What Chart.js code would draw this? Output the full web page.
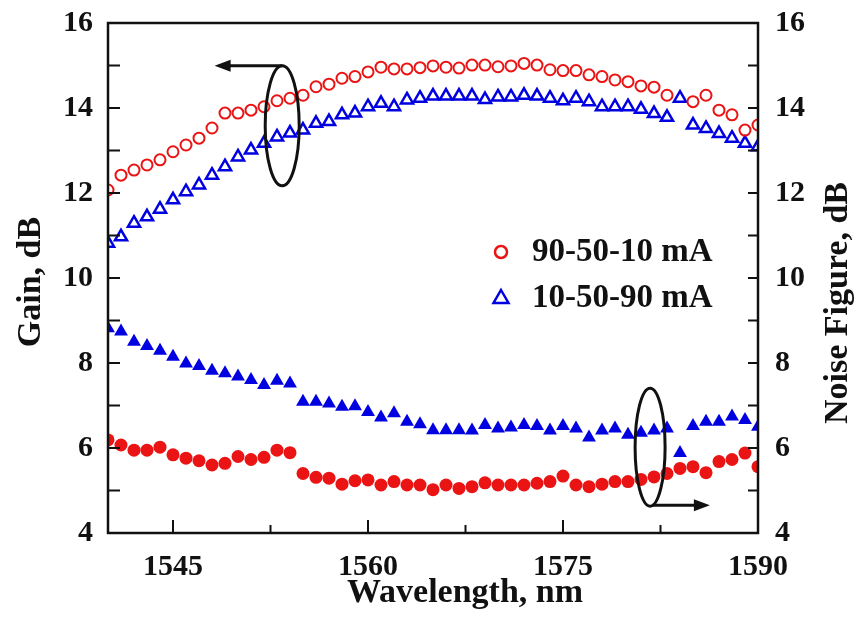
<!DOCTYPE html>
<meta charset="utf-8">
<style>
html, body {
  margin: 0;
  background: #fff;
}

#chart {
  display: block;
}
</style>
<body>

<canvas id="chart" width="860" height="631"></canvas>

<script src="https://cdn.jsdelivr.net/npm/chart.js@4/dist/chart.umd.min.js"></script>
<script type="text/javascript">
"use strict";

/* global Chart, document */

var wavelengths = [
  1540, 1541, 1542, 1543, 1544, 1545, 1546, 1547, 1548, 1549,
  1550, 1551, 1552, 1553, 1554, 1555, 1556, 1557, 1558, 1559,
  1560, 1561, 1562, 1563, 1564, 1565, 1566, 1567, 1568, 1569,
  1570, 1571, 1572, 1573, 1574, 1575, 1576, 1577, 1578, 1579,
  1580, 1581, 1582, 1583, 1584, 1585, 1586, 1587, 1588, 1589, 1590
];

// gain, dB (open markers, left axis)
var gain905010 = [
  12.07, 12.42, 12.54, 12.66, 12.78, 12.97, 13.13, 13.29, 13.53, 13.88,
  13.88, 13.95, 14.03, 14.17, 14.23, 14.30, 14.50, 14.56, 14.70, 14.74,
  14.85, 14.96, 14.92, 14.92, 14.95, 14.99, 14.96, 14.94, 15.01, 15.01,
  14.97, 14.99, 15.05, 15.01, 14.90, 14.88, 14.88, 14.78, 14.74, 14.66,
  14.62, 14.52, 14.49, 14.30, null, 14.15, 14.30, 13.95, 13.84, 13.48, 13.60
];

var gain105090 = [
  10.82, 10.97, 11.29, 11.44, 11.62, 11.84, 12.03, 12.19, 12.42, 12.62,
  12.85, 13.01, 13.17, 13.32, 13.41, 13.48, 13.64, 13.68, 13.84, 13.88,
  14.03, 14.11, 14.03, 14.19, 14.23, 14.28, 14.28, 14.28, 14.28, 14.20,
  14.26, 14.26, 14.30, 14.28, 14.23, 14.17, 14.23, 14.15, 14.03, 14.03,
  14.03, 13.97, 13.87, 13.78, 14.23, 13.60, 13.52, 13.40, 13.29, 13.17, 13.09
];

// noise figure, dB (filled markers, right axis)
var nf905010 = [
  6.19, 6.07, 5.95, 5.95, 6.02, 5.84, 5.76, 5.70, 5.60, 5.64,
  5.80, 5.73, 5.78, 5.95, 5.89, 5.40, 5.31, 5.29, 5.15, 5.23,
  5.25, 5.13, 5.21, 5.13, 5.13, 5.02, 5.13, 5.05, 5.09, 5.18,
  5.13, 5.13, 5.13, 5.17, 5.21, 5.34, 5.13, 5.09, 5.15, 5.21,
  5.21, 5.26, 5.32, 5.40, 5.52, 5.56, 5.42, 5.68, 5.73, 5.88, 5.56
];

var nf105090 = [
  8.82, 8.74, 8.50, 8.40, 8.29, 8.15, 7.99, 7.93, 7.82, 7.76,
  7.68, 7.60, 7.48, 7.58, 7.52, 7.09, 7.09, 7.05, 6.97, 6.98,
  6.85, 6.72, 6.82, 6.62, 6.56, 6.42, 6.42, 6.42, 6.41, 6.54,
  6.46, 6.48, 6.54, 6.52, 6.41, 6.52, 6.46, 6.25, 6.41, 6.46,
  6.31, 6.36, 6.41, 6.46, 5.88, 6.52, 6.62, 6.62, 6.74, 6.66, 6.50
];

var seriesNames = ["90-50-10 mA", "10-50-90 mA"];
var xMajorTicks = [1545, 1560, 1575, 1590];
var xMinorTicks = [1552.5, 1567.5, 1582.5];
var yTicks = [4, 5, 6, 7, 8, 9, 10, 11, 12, 13, 14, 15, 16];

var RED = "rgb(235, 20, 20)";
var BLUE = "rgb(0, 0, 225)";
var FONT = "\"Liberation Serif\", \"Times New Roman\", serif";

function points(values) {
  var out = [];
  values.forEach(function (v, i) {
    if (v !== null) {
      out.push({ x: wavelengths[i], y: v });
    }
  });
  return out;
}

// fixed axis sizes, and no extra layout padding from the tick labels
function fixSize(width, height) {
  return function (scale) {
    if (width) { scale.width = width; }
    if (height) { scale.height = height; }
    scale.paddingTop = 0;
    scale.paddingBottom = 0;
    scale.paddingLeft = 0;
    scale.paddingRight = 0;
  };
}

// frame, inward ticks, axis titles, legend and the two ellipse/arrow marks
var decorations = {
  id: "decorations",
  afterDatasetsDraw: function (chart) {
    var ctx = chart.ctx;
    var a = chart.chartArea;
    var x = chart.scales.x, y = chart.scales.y, y2 = chart.scales.y2;

    ctx.save();
    ctx.strokeStyle = "#111";
    ctx.lineWidth = 2.5;
    ctx.strokeRect(a.left, a.top, a.right - a.left, a.bottom - a.top);

    ctx.lineWidth = 2;
    ctx.beginPath();
    yTicks.forEach(function (v) {
      var py = y.getPixelForValue(v);
      ctx.moveTo(a.left, py);
      ctx.lineTo(a.left + 12, py);
      var py2 = y2.getPixelForValue(v);
      ctx.moveTo(a.right, py2);
      ctx.lineTo(a.right - 10, py2);
    });
    xMajorTicks.forEach(function (v) {
      var px = x.getPixelForValue(v);
      ctx.moveTo(px, a.bottom);
      ctx.lineTo(px, a.bottom - 13);
    });
    xMinorTicks.forEach(function (v) {
      var px = x.getPixelForValue(v);
      ctx.moveTo(px, a.bottom);
      ctx.lineTo(px, a.bottom - 8);
    });
    ctx.stroke();

    // axis titles
    ctx.fillStyle = "#111";
    ctx.font = "bold 34px " + FONT;
    ctx.textAlign = "center";
    ctx.textBaseline = "middle";
    ctx.fillText("Wavelength, nm", 465, 593);
    ctx.save();
    ctx.translate(31, 282);
    ctx.rotate(-Math.PI / 2);
    ctx.fillText("Gain, dB", 0, 0);
    ctx.restore();
    ctx.save();
    ctx.translate(838, 303);
    ctx.rotate(-Math.PI / 2);
    ctx.fillText("Noise Figure, dB", 0, 0);
    ctx.restore();

    // legend (open markers as in the gain series)
    var legendX = a.left + 393, legendY = 252;
    ctx.lineWidth = 2.5;
    ctx.strokeStyle = RED;
    ctx.beginPath();
    ctx.arc(legendX, legendY, 6, 0, Math.PI * 2);
    ctx.stroke();
    ctx.strokeStyle = BLUE;
    ctx.beginPath();
    ctx.moveTo(legendX, legendY + 46 - 8);
    ctx.lineTo(legendX + 7.5, legendY + 46 + 5);
    ctx.lineTo(legendX - 7.5, legendY + 46 + 5);
    ctx.closePath();
    ctx.stroke();
    ctx.font = "bold 33px " + FONT;
    ctx.textAlign = "left";
    ctx.fillText(seriesNames[0], legendX + 31, legendY);
    ctx.fillText(seriesNames[1], legendX + 31, legendY + 46);

    // ellipse + arrow marks
    ctx.strokeStyle = "#111";
    ctx.fillStyle = "#111";
    ctx.lineWidth = 3;
    var ex = x.getPixelForValue(1553.4), ey = y.getPixelForValue(13.58);
    ctx.beginPath();
    ctx.ellipse(ex, ey, 17, 60, 0, 0, Math.PI * 2);
    ctx.stroke();
    var ax = x.getPixelForValue(1548.2);
    ctx.beginPath();
    ctx.moveTo(ex, ey - 60);
    ctx.lineTo(ax + 12, ey - 60);
    ctx.stroke();
    ctx.beginPath();
    ctx.moveTo(ax, ey - 60);
    ctx.lineTo(ax + 16, ey - 66);
    ctx.lineTo(ax + 16, ey - 54);
    ctx.closePath();
    ctx.fill();

    var fx = x.getPixelForValue(1581.7), fy = y2.getPixelForValue(6.02);
    ctx.beginPath();
    ctx.ellipse(fx, fy, 15, 59, 0, 0, Math.PI * 2);
    ctx.stroke();
    var bx = x.getPixelForValue(1586.3);
    ctx.beginPath();
    ctx.moveTo(fx + 2, fy + 58);
    ctx.lineTo(bx - 12, fy + 58);
    ctx.stroke();
    ctx.beginPath();
    ctx.moveTo(bx, fy + 58);
    ctx.lineTo(bx - 16, fy + 52);
    ctx.lineTo(bx - 16, fy + 64);
    ctx.closePath();
    ctx.fill();
    ctx.restore();
  }
};

var tickFont = { family: FONT, size: 30, weight: "bold" };

new Chart(document.getElementById("chart"), {
  type: "scatter",
  data: {
    datasets: [
      {
        label: seriesNames[0] + " gain",
        data: points(gain905010),
        yAxisID: "y",
        pointStyle: "circle",
        pointRadius: 5.5,
        borderWidth: 2,
        borderColor: RED,
        backgroundColor: "rgba(0,0,0,0)",
        clip: 0
      },
      {
        label: seriesNames[1] + " gain",
        data: points(gain105090),
        yAxisID: "y",
        pointStyle: "triangle",
        pointRadius: 7,
        borderWidth: 2.5,
        borderColor: BLUE,
        backgroundColor: "rgba(0,0,0,0)",
        clip: 0
      },
      {
        label: seriesNames[0] + " NF",
        data: points(nf905010),
        yAxisID: "y2",
        pointStyle: "circle",
        pointRadius: 6.5,
        borderWidth: 0,
        borderColor: RED,
        backgroundColor: RED,
        clip: 0
      },
      {
        label: seriesNames[1] + " NF",
        data: points(nf105090),
        yAxisID: "y2",
        pointStyle: "triangle",
        pointRadius: 8,
        borderWidth: 0,
        borderColor: BLUE,
        backgroundColor: BLUE,
        clip: 0
      }
    ]
  },
  options: {
    responsive: false,
    animation: false,
    devicePixelRatio: 1,
    layout: { padding: { top: 23, left: 0, right: 0, bottom: 0 } },
    plugins: {
      legend: { display: false },
      tooltip: { enabled: false }
    },
    scales: {
      x: {
        type: "linear",
        min: 1540,
        max: 1590,
        grid: { display: false, drawTicks: false },
        border: { display: false },
        afterBuildTicks: function (scale) {
          scale.ticks = xMajorTicks.map(function (v) { return { value: v }; });
        },
        afterFit: fixSize(0, 98),
        ticks: {
          font: tickFont,
          color: "#111",
          padding: 16,
          maxRotation: 0,
          callback: function (value) { return String(value); }
        }
      },
      y: {
        position: "left",
        min: 4,
        max: 16,
        grid: { display: false, drawTicks: false },
        border: { display: false },
        afterFit: fixSize(108, 0),
        ticks: { stepSize: 2, font: tickFont, color: "#111", padding: 15 }
      },
      y2: {
        position: "right",
        min: 4,
        max: 16,
        grid: { display: false, drawTicks: false },
        border: { display: false },
        afterFit: fixSize(102, 0),
        ticks: { stepSize: 2, font: tickFont, color: "#111", padding: 17 }
      }
    }
  },
  plugins: [decorations]
});
</script>
</body>
